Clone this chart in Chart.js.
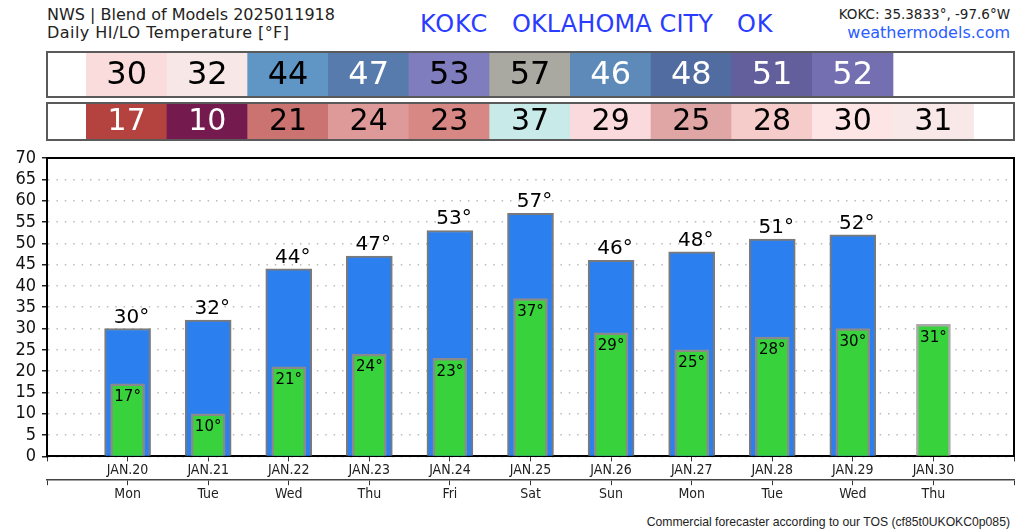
<!DOCTYPE html>
<html>
<head>
<meta charset="utf-8">
<script src="https://cdn.jsdelivr.net/npm/chart.js@4/dist/chart.umd.js"></script>
<style>
  html, body { margin: 0; padding: 0; background: #fff; width: 1024px; height: 531px; overflow: hidden; }
  .txt { position: absolute; white-space: nowrap; font-family: "DejaVu Sans", sans-serif; line-height: 1; }
  .row { position: absolute; left: 46px; width: 969px; }
  .row canvas { position: absolute; left: 0; top: 0; }
  .row::after { content: ""; position: absolute; inset: 0; border: 2px solid #5a5a5a; box-sizing: border-box; }
  #main { position: absolute; left: 0; top: 0; }
</style>
</head>
<body>
<div class="txt" style="left:47px;top:7px;font-size:16px;color:#222">NWS | Blend of Models 2025011918</div>
<div class="txt" style="left:47px;top:25px;font-size:16px;letter-spacing:0.45px;color:#222">Daily HI/LO Temperature [°F]</div>
<div class="txt" style="left:420px;top:12px;font-size:24px;letter-spacing:0.9px;color:#2a3cff">KOKC</div>
<div class="txt" style="left:512px;top:12px;font-size:24px;letter-spacing:0.1px;color:#2a3cff">OKLAHOMA CITY</div>
<div class="txt" style="left:737px;top:12px;font-size:24px;letter-spacing:0.9px;color:#2a3cff">OK</div>
<div class="txt" style="right:14px;top:8px;font-size:13.5px;color:#222">KOKC: 35.3833°, -97.6°W</div>
<div class="txt" style="right:14px;top:25px;font-size:16px;color:#2a5cff">weathermodels.com</div>
<div class="txt" style="right:14px;top:516px;font-size:12.2px;color:#222;font-family:'Liberation Sans'">Commercial forecaster according to our TOS (cf85t0UKOKC0p085)</div>

<div class="row" style="top:51px;height:47px"><canvas id="hiRow"></canvas></div>
<div class="row" style="top:102px;height:39px"><canvas id="loRow"></canvas></div>
<canvas id="main"></canvas>

<script>
const dates = ['', 'JAN.20', 'JAN.21', 'JAN.22', 'JAN.23', 'JAN.24', 'JAN.25', 'JAN.26', 'JAN.27', 'JAN.28', 'JAN.29', 'JAN.30', ''];
const days = ['', 'Mon', 'Tue', 'Wed', 'Thu', 'Fri', 'Sat', 'Sun', 'Mon', 'Tue', 'Wed', 'Thu', ''];
const hiTemps = [null, 30, 32, 44, 47, 53, 57, 46, 48, 51, 52, null, null];
const loTemps = [null, 17, 10, 21, 24, 23, 37, 29, 25, 28, 30, 31, null];
const hiColors = ['#fff', '#fbdcdc', '#f8e7e7', '#5f96c6', '#587bae', '#7f7dbd', '#a9a8a1', '#5e8aba', '#506ca0', '#635f9d', '#736fb0', '#fff', '#fff'];
const loColors = ['#fff', '#b4423f', '#751a4e', '#ca7370', '#de9a98', '#d78784', '#c8ebe9', '#fadadd', '#e0a5a5', '#f6cccb', '#fde4e5', '#f8e8e8', '#fff'];
const hiTextColors = ['', '#000', '#000', '#000', '#fff', '#000', '#000', '#fff', '#fff', '#fff', '#fff', '', ''];
const loTextColors = ['', '#fff', '#fff', '#000', '#000', '#000', '#000', '#000', '#000', '#000', '#000', '#000', ''];
const yTicks = [0, 5, 10, 15, 20, 25, 30, 35, 40, 45, 50, 55, 60, 65, 70];

const FONT = '"DejaVu Sans", sans-serif';
const NARROW = '"DejaVu Sans Condensed", "DejaVu Sans", sans-serif';
Chart.defaults.font.family = FONT;
Chart.defaults.animation = false;
Chart.defaults.responsive = false;

// one strip of coloured cells above the plot, same x scale as the bars
function makeRow(id, temps, colors, textColors, w, h, fontSize) {
  const canvas = document.getElementById(id);
  canvas.width = w;
  canvas.height = h;
  return new Chart(canvas, {
    type: 'bar',
    data: {
      labels: dates,
      datasets: [{
        data: temps.map(t => t === null ? null : 1),
        backgroundColor: colors,
        barPercentage: 1,
        categoryPercentage: 1
      }]
    },
    options: {
      layout: { padding: 0 },
      plugins: { legend: { display: false }, tooltip: { enabled: false } },
      scales: {
        x: { display: false, offset: false },
        y: { display: false, min: 0, max: 1 }
      }
    },
    plugins: [{
      id: 'cellText',
      afterDatasetsDraw(chart) {
        const ctx = chart.ctx;
        ctx.save();
        ctx.font = fontSize + 'px ' + FONT;
        ctx.textAlign = 'center';
        ctx.textBaseline = 'middle';
        temps.forEach((t, i) => {
          if (t === null) return;
          ctx.fillStyle = textColors[i];
          ctx.fillText(String(t), chart.scales.x.getPixelForValue(i), h / 2 + 1);
        });
        ctx.restore();
      }
    }]
  });
}
makeRow('hiRow', hiTemps, hiColors, hiTextColors, 968, 47, 32);
makeRow('loRow', loTemps, loColors, loTextColors, 968, 39, 30);

const barLabels = {
  id: 'barLabels',
  afterDatasetsDraw(chart) {
    const ctx = chart.ctx;
    const { x, y } = chart.scales;
    const area = chart.chartArea;
    ctx.save();
    ctx.textAlign = 'center';
    ctx.fillStyle = '#000';
    ctx.textBaseline = 'alphabetic';
    ctx.font = '20px ' + FONT;
    hiTemps.forEach((t, i) => {
      if (t !== null) ctx.fillText(t + '°', x.getPixelForValue(i) + 4, y.getPixelForValue(t) - 6);
    });
    ctx.textBaseline = 'top';
    ctx.font = '15px ' + FONT;
    loTemps.forEach((t, i) => {
      if (t !== null) ctx.fillText(t + '°', x.getPixelForValue(i), y.getPixelForValue(t) + 6);
    });
    // top and right edge of the frame
    ctx.strokeStyle = '#000';
    ctx.lineWidth = 2;
    ctx.beginPath();
    ctx.moveTo(area.left, area.top);
    ctx.lineTo(area.right, area.top);
    ctx.lineTo(area.right, area.bottom);
    ctx.stroke();
    ctx.restore();
  }
};

const mainCanvas = document.getElementById('main');
mainCanvas.width = 1024;
mainCanvas.height = 531;
new Chart(mainCanvas, {
  type: 'bar',
  data: {
    labels: dates,
    datasets: [
      {
        label: 'LO',
        data: loTemps,
        backgroundColor: '#38d23c',
        borderColor: loTemps.map((t, i) => hiTemps[i] === null ? '#aaaaaa' : '#8a8a8a'),
        borderWidth: { left: 2.5, right: 2.5, top: 2.5, bottom: 0 },
        barThickness: 34,
        grouped: false,
        order: 1
      },
      {
        label: 'HI',
        data: hiTemps,
        backgroundColor: '#2b7fee',
        borderColor: '#7a7a7a',
        borderWidth: { left: 2, right: 2, top: 2, bottom: 0 },
        barThickness: 46,
        grouped: false,
        order: 2
      }
    ]
  },
  options: {
    layout: { padding: { top: 158, right: 10, bottom: 27, left: 0 } },
    plugins: { legend: { display: false }, tooltip: { enabled: false } },
    scales: {
      x: {
        offset: false,
        border: { color: '#000', width: 2 },
        grid: { offset: false, drawOnChartArea: false, drawTicks: true, tickLength: 5, color: '#333' },
        ticks: { autoSkip: false, maxRotation: 0, color: '#222', font: { size: 14, family: NARROW }, padding: 1 }
      },
      x2: {
        type: 'category',
        position: 'bottom',
        labels: days,
        offset: false,
        border: { color: '#444', width: 1.5 },
        grid: { offset: false, drawOnChartArea: false, drawTicks: true, tickLength: 5, color: '#333' },
        ticks: { autoSkip: false, maxRotation: 0, color: '#222', font: { size: 14, family: NARROW }, padding: 1 }
      },
      y: {
        min: 0,
        max: 70,
        afterFit(axis) { axis.width = 47; },
        afterBuildTicks(axis) { axis.ticks = yTicks.map(v => ({ value: v })); },
        border: { color: '#000', width: 2, dash: [1.5, 6.9] },
        grid: { color: '#bbbbbb', lineWidth: 1.5, tickLength: 5, tickColor: '#222', tickBorderDash: [], tickWidth: 1.5 },
        ticks: { autoSkip: false, color: '#111', font: { size: 18, family: NARROW }, padding: 6 }
      }
    }
  },
  plugins: [barLabels]
});
</script>
</body>
</html>
